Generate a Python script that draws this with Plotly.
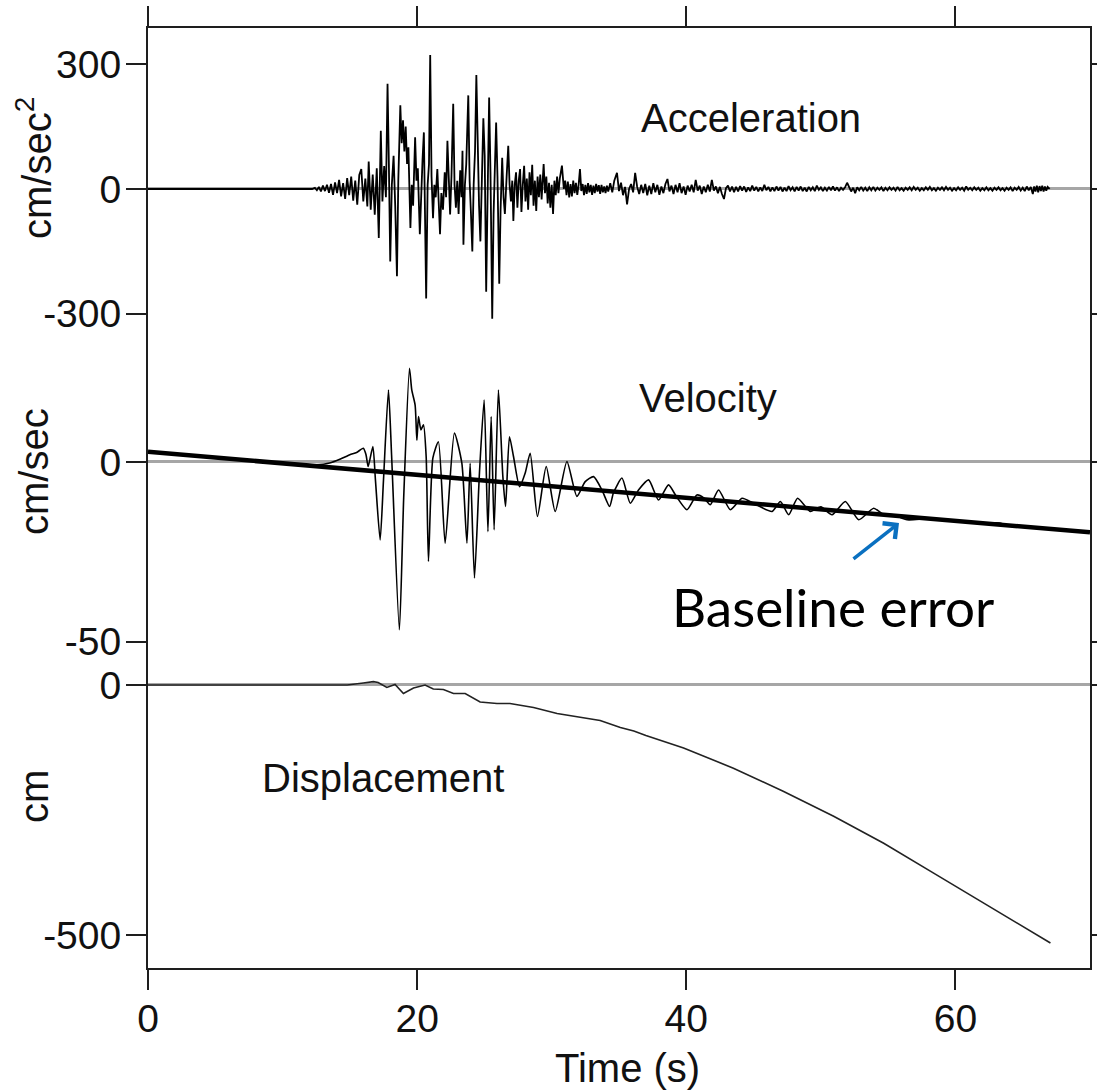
import plotly.graph_objects as go

# ---------------- data ----------------
# Acceleration record: (time s, cm/s^2)
acceleration = [
    (0, 0), (12.2, 0), (12.4, 3), (12.55, -3), (12.7, 5), (12.85, -6), (13.0, 8), (13.15, -5), (13.3, 10),
    (13.45, -9), (13.6, 12), (13.75, -14), (13.9, 16), (14.05, -10), (14.2, 22), (14.35, -18), (14.5, 14),
    (14.65, -24), (14.8, 26), (14.95, -15), (15.1, 30), (15.25, -28), (15.4, 20), (15.55, -38), (15.7, 34),
    (15.85, 48), (16.0, -30), (16.15, 25), (16.3, -42), (16.4, 66), (16.55, -50), (16.7, 35), (16.85, -62),
    (17.0, 50), (17.15, -118), (17.3, 140), (17.42, -30), (17.55, 55), (17.68, -20), (17.8, 253), (17.9, 60),
    (18.0, -174), (18.12, 10), (18.25, 80), (18.37, -40), (18.5, -210), (18.6, 20), (18.75, 201), (18.85, 110),
    (18.95, 165), (19.05, 90), (19.15, 150), (19.25, 60), (19.35, 100), (19.5, -94), (19.6, 10), (19.7, -40),
    (19.85, 124), (19.95, 20), (20.05, 50), (20.2, -109), (20.3, 10), (20.4, 70), (20.5, 136), (20.58, -40),
    (20.67, -263), (20.78, 10), (20.88, 60), (20.97, 322), (21.07, 30), (21.18, -70), (21.28, 10), (21.38, -20),
    (21.5, 48), (21.6, -30), (21.7, -109), (21.8, -10), (21.92, -50), (22.05, 40), (22.15, -20), (22.25, 116),
    (22.35, 20), (22.45, -61), (22.55, 30), (22.68, 205), (22.78, 10), (22.88, -45), (22.98, 20), (23.08, -60),
    (23.2, 45), (23.3, -20), (23.37, 92), (23.44, -134), (23.55, 10), (23.65, 60), (23.8, 225), (23.9, 20),
    (24.0, -60), (24.1, -150), (24.2, 10), (24.3, 90), (24.4, 274), (24.5, 60), (24.6, -40), (24.7, -126),
    (24.8, 20), (24.92, 170), (25.02, 80), (25.13, -247), (25.23, -30), (25.35, 220), (25.45, 40), (25.58, -312),
    (25.68, -60), (25.78, 50), (25.87, 160), (25.97, 30), (26.1, -228), (26.2, -50), (26.32, 75), (26.42, -20),
    (26.52, -60), (26.65, 30), (26.77, 104), (26.87, 10), (26.97, -30), (27.07, 20), (27.15, -77), (27.25, 10),
    (27.35, 40), (27.45, -45), (27.55, 20), (27.65, 48), (27.75, -55), (27.85, 10), (27.95, 56), (28.05, -30),
    (28.15, 25), (28.25, -50), (28.35, 40), (28.45, -15), (28.55, 58), (28.65, -40), (28.75, 20), (28.85, -53),
    (28.95, 30), (29.05, -20), (29.15, 35), (29.25, -25), (29.4, 60), (29.5, -10), (29.6, 30), (29.7, -35),
    (29.8, 15), (29.9, -45), (30.0, 10), (30.1, -60), (30.2, 20), (30.3, -15), (30.4, 30), (30.5, -10),
    (30.6, 25), (30.76, 56), (30.9, 0), (31.0, 20), (31.1, -15), (31.2, 18), (31.3, -20), (31.4, 12),
    (31.5, -18), (31.6, 20), (31.7, -10), (31.8, 15), (31.9, -14), (32.0, 10), (32.1, 48), (32.2, -5),
    (32.3, 12), (32.4, -15), (32.5, 10), (32.6, -12), (32.7, 14), (32.8, -8), (32.9, 10), (33.0, -14),
    (33.1, 8), (33.2, -10), (33.3, 12), (33.4, -6), (33.5, 9), (33.6, -12), (33.7, 10), (33.8, -8),
    (33.9, 6), (34.0, -10), (34.1, 8), (34.2, -6), (34.35, 14), (34.5, -8), (34.65, 20), (34.85, 39),
    (35.0, -5), (35.15, 15), (35.3, -15), (35.45, 5), (35.6, -37), (35.75, 0), (35.9, 12), (36.05, -8),
    (36.2, 39), (36.35, 5), (36.5, -12), (36.65, 10), (36.8, -10), (36.95, 12), (37.1, -15), (37.25, 8),
    (37.4, -12), (37.55, 14), (37.7, -8), (37.85, 10), (38.0, -14), (38.15, 6), (38.3, -10), (38.45, 12),
    (38.6, 24), (38.75, -6), (38.9, 8), (39.05, -12), (39.2, 10), (39.35, -8), (39.5, 14), (39.65, -10),
    (39.8, 6), (39.95, -14), (40.1, 8), (40.25, -6), (40.4, 10), (40.55, -8), (40.7, 22), (40.85, -4),
    (41.0, 8), (41.15, -12), (41.3, 6), (41.45, -8), (41.6, 10), (41.75, -6), (41.9, 22), (42.05, -4),
    (42.2, 6), (42.35, -10), (42.5, 5), (42.65, -12), (42.8, -24), (42.95, 2), (43.1, 8), (43.25, -6),
    (43.4, 6), (43.55, -8), (43.7, 5), (43.85, -6), (44.0, 7), (44.15, -4), (44.3, 6), (44.45, -7),
    (44.6, 4), (44.75, -5), (44.9, 8), (45.05, -4), (45.2, 5), (45.35, -6), (45.5, 4), (45.65, -5),
    (45.8, 10), (45.95, -3), (46.1, 5), (46.25, -6), (46.4, 4), (46.55, -5), (46.7, 6), (46.85, -4),
    (47.0, 5), (47.15, -6), (47.3, 3), (47.45, -5), (47.6, 7), (47.75, -3), (47.9, 4), (48.05, -6),
    (48.2, 5), (48.35, -4), (48.5, 6), (48.65, -5), (48.8, 3), (48.95, -6), (49.1, 5), (49.25, -3),
    (49.4, 4), (49.55, -5), (49.7, 8), (49.85, -2), (50.0, 4), (50.15, -5), (50.3, 3), (50.45, -4),
    (50.6, 5), (50.75, -3), (50.9, 6), (51.05, -4), (51.2, 4), (51.35, -5), (51.5, 3), (51.65, -2),
    (51.8, 4), (51.95, 15), (52.1, 2), (52.25, -6), (52.4, 3), (52.55, -10), (52.7, 4), (52.85, -3),
    (53.0, 5), (53.15, -4), (53.3, 3), (53.45, -5), (53.6, 4), (53.75, -3), (53.9, 5), (54.05, -4),
    (54.2, 3), (54.35, -2), (54.5, 4), (54.65, -5), (54.8, 3), (54.95, -3), (55.1, 4), (55.25, -2),
    (55.4, 3), (55.55, -4), (55.7, 5), (55.85, -3), (56.0, 2), (56.15, -4), (56.3, 3), (56.45, -2),
    (56.6, 4), (56.75, -3), (56.9, 5), (57.05, -2), (57.2, 3), (57.35, -4), (57.5, 2), (57.65, -3),
    (57.8, 4), (57.95, -2), (58.1, 5), (58.25, -3), (58.4, 2), (58.55, -4), (58.7, 3), (58.85, -2),
    (59.0, 4), (59.15, -3), (59.3, 5), (59.45, -2), (59.6, 3), (59.75, -4), (59.9, 2), (60.05, -3),
    (60.2, 4), (60.35, -2), (60.5, 3), (60.65, -4), (60.8, 6), (60.95, -2), (61.1, 3), (61.25, -3),
    (61.4, 4), (61.55, -2), (61.7, 3), (61.85, -4), (62.0, 2), (62.15, -3), (62.3, 4), (62.45, -3),
    (62.6, 2), (62.75, -4), (62.9, 3), (63.05, -2), (63.2, 4), (63.35, -3), (63.5, 2), (63.65, -4),
    (63.8, 3), (63.95, -2), (64.1, 4), (64.25, -5), (64.4, 3), (64.55, -2), (64.7, 5), (64.85, -4),
    (65.0, 3), (65.15, -5), (65.3, 6), (65.45, -3), (65.6, 5), (65.75, -12), (65.85, 6), (65.95, -6),
    (66.05, 8), (66.15, -8), (66.25, 7), (66.35, -5), (66.45, 8), (66.55, -6), (66.65, 6), (66.75, -4),
    (66.85, 5), (67.0, 0),
]

# Velocity record: (time s, cm/s)
velocity = [
    (0, 2.8), (6, 0.9), (11, -0.6), (12.5, -0.8), (13.5, -0.3), (14.3, 0.8), (15.0, 2.0), (15.5, 2.6),
    (16.0, 3.8), (16.2, 2.0), (16.36, -1.3), (16.71, 4.3), (16.9, -5), (17.25, -21.7), (17.5, -5),
    (17.87, 20), (18.1, 2), (18.68, -46.7), (19.0, -10), (19.43, 26), (19.6, 20), (19.85, 15.8),
    (19.98, 6), (20.10, 12.6), (20.28, 8.9), (20.47, 10.3), (20.67, 1.5), (20.84, -27.7), (21.17, 1.1),
    (21.58, 5.6), (22.08, -22.6), (22.77, 8), (23.32, -0.3), (23.70, -22.6), (23.94, -0.4), (24.26, -32.3),
    (24.63, -3.1), (24.98, 17.2), (25.26, -19.4), (25.50, 12.6), (25.72, -18.9), (26.04, 20), (26.37, -4.1),
    (26.57, -12.4), (26.86, 7), (27.16, 1.5), (27.61, -6.9), (28.03, -3.1), (28.40, 2.4), (28.94, -15.2),
    (29.59, -1.3), (30.26, -13.8), (31.13, 0.1), (31.87, -9.6), (32.49, -5.5), (33.11, -4.1), (33.73, -7.8),
    (34.30, -12.4), (34.59, -8.6), (35.22, -4.5), (35.84, -11.5), (36.45, -7.8), (37.20, -5.0), (37.94, -10.6),
    (38.68, -6.4), (39.26, -9.6), (40.05, -13.3), (40.79, -9.2), (41.3, -10), (41.78, -11.9), (42.40, -7.8),
    (43.27, -13.3), (44.14, -10.1), (45.0, -11.5), (46.37, -13.8), (46.99, -11.0), (47.61, -14.7),
    (48.27, -10.1), (49.22, -13.8), (50.0, -12.5), (50.83, -14.7), (51.82, -11.0), (52.81, -16.1),
    (53.93, -12.9), (54.6, -14.5), (55.41, -14.7), (56.41, -16.1), (58.0, -15.8), (60.0, -16.4),
    (62.0, -17.0), (63.3, -17.0), (64.0, -17.8), (66.3, -18.4),
]

# Fitted baseline trend in the velocity (cm/s)
baseline_time = [0, 70]
baseline_velocity = [2.8, -19.6]

# Displacement record: (time s, cm)
displacement = [
    (0, 0), (13, 0), (14.8, 0), (16.0, 4), (16.75, 6.6), (17.1, 5), (17.75, -5), (18.36, 1), (18.98, -17),
    (19.73, -6), (20.59, 0), (21.2, -8), (21.95, -9), (22.7, -17), (23.57, -17), (24.68, -34), (25.93, -37),
    (26.9, -37), (28.65, -45), (30.4, -57), (32.1, -64), (33.6, -71), (35.1, -85), (36.1, -92), (37.0, -101),
    (39.8, -126), (43.5, -166), (47.2, -212), (50.95, -262), (54.67, -316), (58.35, -375), (62.1, -435),
    (67.06, -515),
]

time_ticks = [0, 20, 40, 60]
accel_ticks = [-300, 0, 300]
vel_ticks = [-50, 0]
disp_ticks = [-500, 0]

# ---------------- figure ----------------
FONT = "Liberation Sans, Arial, sans-serif"
AX = "#1e1e1e"
ZERO = "#a6a6a6"

accel_t, accel_a = zip(*acceleration)
vel_t, vel_v = zip(*velocity)
disp_t, disp_d = zip(*displacement)

fig = go.Figure()
fig.add_trace(go.Scatter(x=accel_t, y=accel_a, mode="lines", xaxis="x", yaxis="y",
                         line=dict(color="black", width=1.8), showlegend=False))
fig.add_trace(go.Scatter(x=vel_t, y=vel_v, mode="lines", xaxis="x2", yaxis="y2",
                         line=dict(color="black", width=1.6, shape="spline", smoothing=0.6),
                         showlegend=False))
fig.add_trace(go.Scatter(x=baseline_time, y=baseline_velocity, mode="lines", xaxis="x2", yaxis="y2",
                         line=dict(color="black", width=4.5), showlegend=False))
fig.add_trace(go.Scatter(x=disp_t, y=disp_d, mode="lines", xaxis="x3", yaxis="y3",
                         line=dict(color="#222222", width=1.6), showlegend=False))

tickfont = dict(family=FONT, size=39, color="#111111")

def fmt(v):
    return str(v).replace("\u2212", "-")

def yax(domain, rng, ticks, anchor):
    return dict(domain=domain, range=rng, tickvals=ticks, ticktext=[fmt(t) for t in ticks],
                anchor=anchor, automargin=False, ticklabelstandoff=-3,
                ticks="outside", ticklen=20, tickwidth=2, tickcolor=AX,
                showline=True, linecolor=AX, linewidth=2, mirror="ticks",
                showgrid=False, zeroline=True, zerolinecolor=ZERO, zerolinewidth=2.5,
                tickfont=tickfont, fixedrange=True)

fig.update_layout(
    width=1097, height=1090,
    margin=dict(l=148, r=7, t=28, b=122, autoexpand=False),
    paper_bgcolor="white", plot_bgcolor="white",
    showlegend=False,
    xaxis=dict(domain=[0, 1], range=[0, 70], anchor="y", side="top", tickvals=time_ticks,
               ticks="outside", ticklen=20, tickwidth=2, tickcolor=AX, showticklabels=False,
               showline=True, linecolor=AX, linewidth=2, showgrid=False, zeroline=False,
               automargin=False),
    xaxis2=dict(domain=[0, 1], range=[0, 70], anchor="y2", showline=False, ticks="",
                showticklabels=False, showgrid=False, zeroline=False, automargin=False),
    xaxis3=dict(domain=[0, 1], range=[0, 70], anchor="y3", side="bottom", tickvals=time_ticks,
                ticktext=[str(t) for t in time_ticks],
                ticks="outside", ticklen=20, tickwidth=2, tickcolor=AX, ticklabelstandoff=-5,
                showline=True, linecolor=AX, linewidth=2, showgrid=False, zeroline=False,
                tickfont=tickfont, automargin=False),
    yaxis=yax([0.6681, 1.0], [-363, 387], accel_ticks, "x"),
    yaxis2=yax([0.3330, 0.6681], [-53.7, 33.9], vel_ticks, "x2"),
    yaxis3=yax([0.0, 0.3330], [-564.9, 59.9], disp_ticks, "x3"),
)

lab = dict(family=FONT, size=40, color="#111111")
def px(x):
    return (x - 148) / 942
def py(y):
    return (968 - y) / 940

annotations = [
    dict(text="Acceleration", x=px(751), y=py(118), font=lab),
    dict(text="Velocity", x=px(708), y=py(398), font=lab),
    dict(text="Displacement", x=px(383), y=py(778), font=lab),
    dict(text="cm/sec<sup>2</sup>", x=px(34), y=py(168), font=lab, textangle=-90),
    dict(text="cm/sec", x=px(34), y=py(472), font=lab, textangle=-90),
    dict(text="cm", x=px(34), y=py(797), font=lab, textangle=-90),
    dict(text="Time (s)", x=px(627), y=py(1068), font=lab),
    dict(text="Baseline error", x=px(833), y=py(606),
         font=dict(family="Lato, Open Sans, sans-serif", size=53, color="black")),
]
for a in annotations:
    a.update(xref="paper", yref="paper", xanchor="center", yanchor="middle", showarrow=False)
    fig.add_annotation(**a)

# blue arrow pointing at the baseline
fig.add_annotation(xref="paper", yref="paper", x=px(899), y=py(523), ax=-47, ay=37,
                   text="", showarrow=True, arrowhead=4, arrowsize=1.1, arrowwidth=3.5,
                   arrowcolor="#0a70c0", standoff=0)

fig.write_html("out.html")
